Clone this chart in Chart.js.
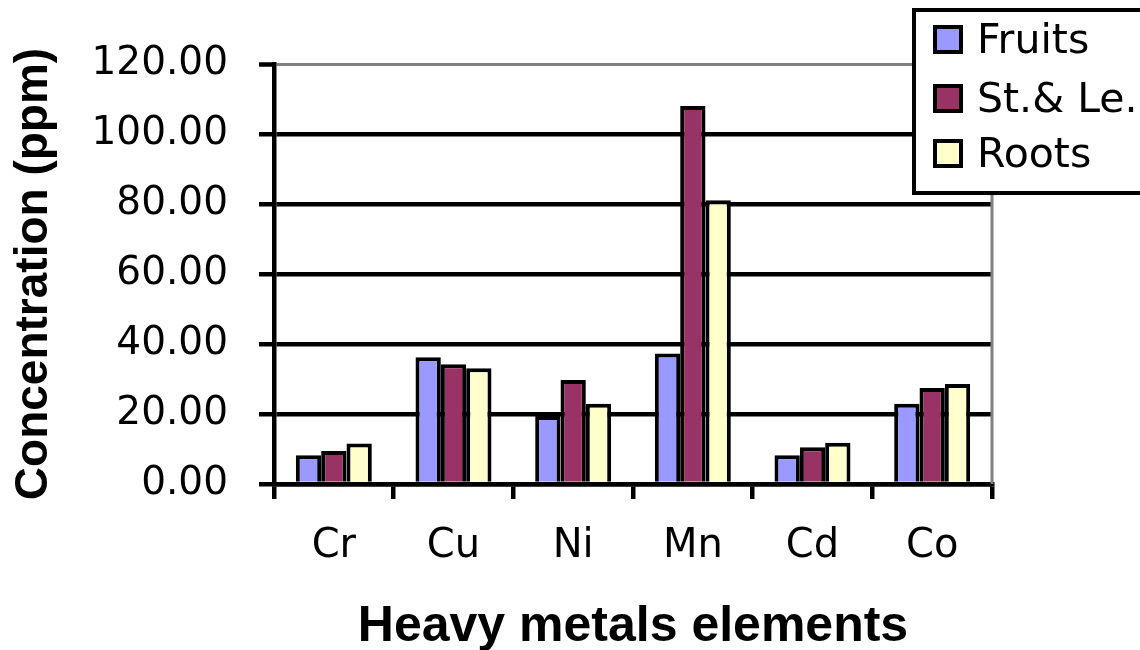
<!DOCTYPE html>
<html>
<head>
<meta charset="utf-8">
<script src="https://cdn.jsdelivr.net/npm/chart.js@4.4.0/dist/chart.umd.min.js"></script>
<style>
  html, body { margin: 0; padding: 0; background: #ffffff; }
  #wrap { width: 1140px; height: 650px; }
</style>
</head>
<body>
<div id="wrap"><canvas id="c" width="1140" height="650"></canvas></div>
<script>
const categories = ['Cr', 'Cu', 'Ni', 'Mn', 'Cd', 'Co'];
const seriesNames = ['Fruits', 'St.& Le.', 'Roots'];
const fruits = [8.2, 36.2, 19.4, 37.3, 8.2, 22.9];
const stemsLeaves = [9.4, 34.2, 29.7, 108.0, 10.5, 27.4];
const roots = [11.6, 33.1, 22.9, 81.1, 11.8, 28.6];
const yTicks = [0, 20, 40, 60, 80, 100, 120];
const seriesColors = ['#9999FF', '#993366', '#FFFFCC'];

const framePlugin = {
  id: 'frame',
  afterDatasetsDraw(chart) {
    const {ctx, chartArea: a} = chart;
    ctx.save();
    ctx.strokeStyle = '#808080';
    ctx.lineWidth = 3;
    ctx.beginPath();
    ctx.moveTo(a.right, a.top);
    ctx.lineTo(a.right, a.bottom);
    ctx.stroke();
    ctx.restore();
  },
  afterDraw(chart) {
    const ctx = chart.ctx;
    ctx.save();
    // legend box
    ctx.fillStyle = '#ffffff';
    ctx.fillRect(914, 10, 240, 183);
    ctx.strokeStyle = '#000000';
    ctx.lineWidth = 4;
    ctx.strokeRect(914, 10, 240, 183);
    const baselines = [53, 112, 167];
    ctx.font = '41px "DejaVu Sans"';
    ctx.textBaseline = 'alphabetic';
    ctx.textAlign = 'left';
    chart.data.datasets.forEach((ds, i) => {
      const b = baselines[i];
      ctx.fillStyle = ds.backgroundColor;
      ctx.fillRect(935, b - 26, 26, 25);
      ctx.lineWidth = 4;
      ctx.strokeStyle = '#000000';
      ctx.strokeRect(935, b - 26, 26, 25);
      ctx.fillStyle = '#000000';
      ctx.fillText(ds.label, 977, b);
    });
    ctx.restore();
  }
};

const seriesData = [fruits, stemsLeaves, roots];

new Chart(document.getElementById('c'), {
  type: 'bar',
  data: {
    labels: categories,
    datasets: seriesNames.map((n, i) => ({
      label: n,
      data: seriesData[i],
      backgroundColor: seriesColors[i],
      borderColor: '#000000',
      borderWidth: 4,
      borderSkipped: 'bottom',
      categoryPercentage: 0.635,
      barPercentage: 1.0
    }))
  },
  options: {
    responsive: false,
    animation: false,
    events: [],
    layout: { padding: { top: 64, right: 148, left: 0, bottom: 0 } },
    plugins: { legend: { display: false }, tooltip: { enabled: false } },
    scales: {
      x: {
        afterFit(s) { s.height = 166; },
        grid: {
          offset: true,
          drawOnChartArea: false,
          drawTicks: true,
          tickLength: 15,
          tickColor: '#000000',
          tickWidth: 4.5,
          lineWidth: 4.5,
          color: '#000000'
        },
        border: { display: true, color: '#000000', width: 4.5 },
        ticks: {
          color: '#000000',
          padding: 24,
          font: { family: '"DejaVu Sans"', size: 40 },
          maxRotation: 0,
          autoSkip: false
        },
        title: {
          display: true,
          text: 'Heavy metals elements',
          color: '#000000',
          font: { family: '"Liberation Sans"', size: 50, weight: 'bold', lineHeight: 0.9 },
          padding: 0
        }
      },
      y: {
        min: 0,
        max: 120,
        afterFit(s) { s.width = 274; },
        afterBuildTicks(s) { s.ticks = yTicks.map(v => ({ value: v })); },
        grid: {
          color: (c) => (c.tick && c.tick.value === 120 ? '#808080' : '#000000'),
          lineWidth: (c) => (c.tick && c.tick.value === 120 ? 3 : 4.5),
          tickColor: '#000000',
          tickWidth: 4.5,
          tickLength: 15,
          drawTicks: true
        },
        border: { display: true, color: '#000000', width: 4.5 },
        ticks: {
          color: '#000000',
          padding: 31,
          font: { family: '"DejaVu Sans"', size: 39 },
          callback: (v) => Number(v).toFixed(2)
        },
        title: {
          display: true,
          text: 'Concentration (ppm)',
          color: '#000000',
          font: { family: '"Liberation Sans"', size: 46, weight: 'bold', lineHeight: 1.2 },
          padding: { top: 7, bottom: 0 }
        }
      }
    }
  },
  plugins: [framePlugin]
});
</script>
</body>
</html>
